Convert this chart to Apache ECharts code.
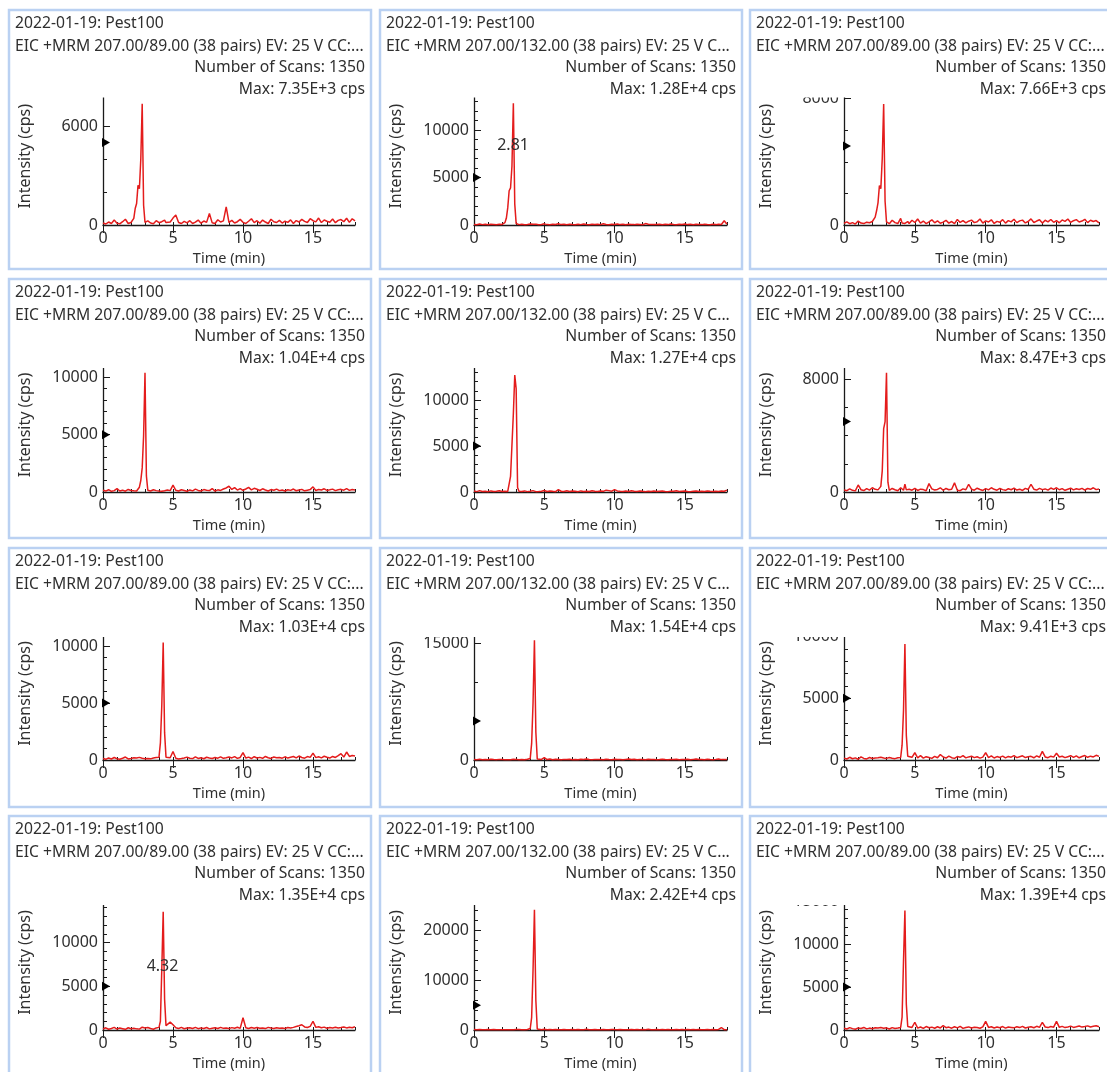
<!DOCTYPE html>
<html>
<head>
<meta charset="utf-8">
<script src="https://cdn.jsdelivr.net/npm/echarts@6/dist/echarts.min.js"></script>
<style>
  html, body { margin: 0; padding: 0; background: #fff; }
  #chart { width: 1107px; height: 1072px; }
</style>
</head>
<body>
<div id="chart"></div>
<script>
// retention time grid shared by every trace (min)
const timeMin = [
  0, 0.2, 0.4, 0.6, 0.8, 1.0, 1.2, 1.4, 1.6, 1.8, 2.0, 2.2,
  2.3, 2.4, 2.5, 2.6, 2.7, 2.8, 2.9, 3.0, 3.1, 3.2,
  3.4, 3.6, 3.8, 4.0,
  4.1, 4.2, 4.3, 4.4, 4.5, 4.6,
  4.8, 5.0, 5.2, 5.4, 5.6, 5.8, 6.0, 6.2, 6.4, 6.6, 6.8,
  7.0, 7.2, 7.4, 7.6, 7.8, 8.0, 8.2, 8.4, 8.6, 8.8,
  9.0, 9.2, 9.4, 9.6, 9.8, 10.0, 10.2, 10.4, 10.6, 10.8,
  11.0, 11.2, 11.4, 11.6, 11.8, 12.0, 12.2, 12.4, 12.6, 12.8,
  13.0, 13.2, 13.4, 13.6, 13.8, 14.0, 14.2, 14.4, 14.6, 14.8,
  15.0, 15.2, 15.4, 15.6, 15.8, 16.0, 16.2, 16.4, 16.6, 16.8,
  17.0, 17.2, 17.4, 17.6, 17.8, 18.0
]

// intensities (cps), one array per panel, read row by row
const eic01 = [
  120, 60, 180, 90, 300, 110, 70, 200, 350, 90, 150, 400,
  1000, 1300, 2400, 2200, 4000, 7350, 1200, 160, 90, 250,
  120, 80, 260, 140,
  90, 200, 110, 300, 150, 80,
  180, 420, 600, 150, 90, 220, 130, 260, 90, 170, 300,
  110, 240, 160, 700, 130, 90, 320, 180, 250, 1100,
  150, 280, 120, 200, 340, 160, 90, 230, 380, 140,
  260, 110, 300, 180, 90, 350, 200, 150, 280, 120,
  230, 160, 310, 90, 270, 180, 340, 220, 150, 380,
  260, 190, 420, 150, 300, 230, 170, 360, 140, 280,
  330, 200, 410, 160, 380, 250
]
const eic02 = [
  60, 30, 100, 40, 80, 20, 70, 50, 30, 90, 60, 250,
  700, 1800, 3600, 3900, 6200, 12800, 2200, 150, 60, 40,
  80, 30, 60, 100,
  40, 70, 30, 90, 50, 20,
  60, 120, 40, 30, 80, 50, 140, 40, 70, 30, 90,
  50, 30, 80, 40, 110, 60, 30, 70, 50, 90,
  40, 130, 60, 30, 80, 50, 100, 40, 70, 30,
  90, 50, 40, 80, 60, 30, 150, 70, 40, 60,
  50, 90, 30, 70, 40, 100, 60, 30, 80, 50,
  110, 40, 70, 30, 90, 60, 40, 80, 50, 30,
  70, 40, 90, 60, 450, 80
]
const eic03 = [
  100, 200, 80, 150, 60, 250, 120, 90, 180, 140, 220, 500,
  900, 1400, 2500, 2300, 4200, 7660, 1500, 200, 120, 80,
  300, 150, 90, 420,
  130, 250, 100, 180, 220, 90,
  300, 160, 380, 120, 250, 90, 200, 330, 140, 260, 110,
  180, 300, 120, 220, 90, 350, 160, 280, 130, 240,
  310, 150, 200, 380, 120, 260, 190, 330, 100, 230,
  170, 340, 120, 280, 200, 360, 150, 260, 310, 130,
  220, 390, 160, 250, 330, 120, 300, 200, 350, 170,
  280, 140, 320, 230, 380, 160, 270, 340, 190, 250,
  360, 150, 300, 220, 280, 130
]
const eic04 = [
  150, 80, 200, 60, 120, 300, 90, 160, 70, 220, 130, 100,
  180, 90, 200, 420, 1000, 2100, 4900, 10400, 1400, 160,
  90, 200, 120, 80,
  150, 60, 230, 110, 90, 170,
  120, 600, 150, 90, 200, 130, 60, 180, 100, 250, 140,
  90, 210, 160, 120, 300, 80, 190, 140, 260, 350,
  500, 220, 380, 170, 300, 150, 260, 400, 190, 320,
  240, 130, 280, 180, 90, 210, 150, 250, 120, 170,
  90, 200, 140, 260, 110, 180, 230, 100, 160, 210,
  450, 130, 220, 170, 280, 140, 190, 250, 120, 200,
  230, 160, 290, 140, 210, 180
]
const eic05 = [
  100, 40, 150, 60, 90, 30, 120, 50, 80, 140, 60, 90,
  70, 60, 200, 1700, 1900, 8500, 12700, 11200, 500, 80,
  60, 120, 40, 90,
  50, 150, 80, 40, 110, 60,
  90, 160, 50, 120, 70, 40, 250, 80, 60, 130, 50,
  100, 70, 40, 120, 60, 90, 50, 130, 80, 60,
  110, 70, 200, 150, 90, 260, 120, 70, 50, 100,
  60, 130, 80, 50, 110, 70, 40, 90, 60, 120,
  50, 80, 110, 60, 40, 90, 70, 130, 50, 80,
  100, 60, 40, 90, 120, 50, 80, 60, 110, 70,
  50, 90, 60, 120, 80, 200
]
const eic06 = [
  150, 90, 220, 120, 80, 500, 160, 100, 240, 130, 300, 190,
  110, 150, 200, 400, 1500, 4500, 5000, 8470, 700, 120,
  250, 160, 90, 300,
  180, 120, 550, 150, 90, 200,
  130, 260, 110, 200, 170, 90, 600, 220, 140, 180, 300,
  120, 250, 160, 200, 650, 130, 90, 220, 160, 550,
  200, 130, 270, 180, 110, 240, 150, 300, 190, 130,
  250, 170, 120, 230, 160, 280, 140, 200, 110, 260,
  180, 550, 200, 140, 260, 170, 220, 130, 280, 190,
  300, 160, 240, 120, 200, 270, 150, 230, 180, 260,
  140, 250, 190, 300, 170, 220
]
const eic07 = [
  130, 60, 180, 90, 220, 110, 70, 150, 260, 90, 130, 200,
  80, 170, 110, 230, 90, 150, 200, 120, 260, 140,
  100, 180, 220, 250,
  1500, 4800, 10300, 2400, 250, 120,
  200, 750, 150, 90, 130, 180, 250, 160, 120, 280, 140,
  190, 110, 240, 170, 130, 220, 160, 280, 150, 200,
  260, 180, 300, 140, 220, 650, 170, 250, 130, 290,
  180, 230, 150, 310, 200, 140, 260, 190, 220, 160,
  280, 170, 240, 310, 190, 350, 220, 160, 300, 230,
  600, 210, 280, 190, 330, 240, 170, 310, 220, 380,
  550, 260, 700, 310, 400, 350
]
const eic08 = [
  60, 30, 90, 40, 70, 30, 110, 50, 40, 80, 60, 30,
  90, 40, 70, 30, 60, 100, 40, 80, 50, 30,
  70, 40, 90, 200,
  2100, 7300, 15400, 3600, 120, 60,
  80, 300, 50, 120, 40, 90, 60, 30, 80, 50, 110,
  40, 70, 30, 90, 50, 120, 60, 40, 80, 50,
  70, 40, 100, 60, 30, 90, 50, 70, 40, 80,
  120, 50, 90, 30, 70, 60, 40, 100, 50, 80,
  40, 70, 110, 50, 30, 80, 60, 90, 40, 70,
  60, 90, 40, 80, 120, 50, 70, 30, 90, 60,
  40, 80, 130, 50, 70, 60
]
const eic09 = [
  150, 80, 220, 100, 170, 60, 250, 130, 90, 200, 120, 160,
  90, 180, 120, 230, 100, 160, 210, 130, 90, 200,
  140, 110, 180, 200,
  1200, 4000, 9410, 2000, 300, 150,
  220, 600, 180, 350, 150, 270, 200, 130, 300, 180, 450,
  240, 160, 320, 190, 130, 280, 220, 350, 170, 250,
  300, 190, 260, 150, 230, 600, 200, 340, 160, 280,
  210, 320, 170, 290, 230, 360, 190, 270, 340, 200,
  260, 300, 180, 330, 220, 700, 250, 190, 310, 230,
  550, 240, 300, 190, 270, 350, 210, 330, 180, 280,
  360, 220, 310, 250, 380, 290
]
const eic10 = [
  120, 250, 90, 180, 300, 110, 220, 150, 80, 260, 140, 190,
  250, 130, 200, 100, 180, 320, 150, 220, 110, 280,
  170, 90, 240, 300,
  1000, 7000, 13500, 3500, 500, 300,
  900, 600, 250, 180, 300, 140, 220, 260, 170, 300, 150,
  240, 180, 280, 130, 210, 260, 170, 300, 190, 230,
  160, 270, 200, 310, 180, 1400, 250, 170, 290, 210,
  280, 190, 240, 160, 300, 220, 170, 260, 200, 230,
  180, 280, 220, 300, 400, 480, 600, 350, 280, 420,
  1000, 300, 380, 260, 330, 200, 290, 240, 310, 220,
  280, 350, 240, 320, 260, 380
]
const eic11 = [
  80, 40, 120, 60, 30, 90, 50, 100, 40, 70, 60, 30,
  90, 50, 70, 40, 100, 60, 30, 80, 50, 90,
  40, 70, 100, 300,
  2500, 12000, 24200, 6000, 200, 80,
  60, 150, 40, 90, 50, 120, 70, 40, 100, 60, 30,
  80, 50, 110, 40, 70, 130, 60, 30, 90, 50,
  70, 100, 40, 60, 120, 80, 50, 90, 40, 70,
  60, 110, 50, 80, 40, 90, 70, 130, 50, 60,
  100, 40, 80, 60, 120, 50, 70, 90, 40, 80,
  60, 100, 50, 80, 40, 120, 70, 50, 90, 60,
  80, 50, 110, 500, 70, 60
]
const eic12 = [
  200, 120, 280, 160, 90, 240, 180, 300, 130, 220, 150, 260,
  170, 230, 120, 290, 160, 210, 140, 250, 190, 120,
  280, 170, 230, 300,
  1500, 8000, 13900, 3000, 400, 250,
  300, 900, 220, 350, 180, 400, 260, 330, 200, 380, 240,
  500, 270, 340, 210, 380, 250, 420, 190, 300, 360,
  240, 330, 280, 200, 360, 1000, 300, 380, 230, 340,
  270, 400, 220, 350, 300, 250, 380, 280, 420, 230,
  320, 380, 260, 430, 300, 900, 350, 280, 400, 330,
  1000, 310, 420, 280, 360, 450, 300, 380, 470, 340,
  400, 480, 350, 430, 500, 380
]
const traces = [eic01, eic02, eic03, eic04, eic05, eic06, eic07, eic08, eic09, eic10, eic11, eic12]

const sampleName = '2022-01-19: Pest100'
const eicTitles = [
  'EIC +MRM 207.00/89.00 (38 pairs) EV: 25 V CC:...',
  'EIC +MRM 207.00/132.00 (38 pairs) EV: 25 V C...',
  'EIC +MRM 207.00/89.00 (38 pairs) EV: 25 V CC:...'
]
const scanCount = 1350
const maxCps = ['7.35E+3', '1.28E+4', '7.66E+3', '1.04E+4', '1.27E+4', '8.47E+3',
  '1.03E+4', '1.54E+4', '9.41E+3', '1.35E+4', '2.42E+4', '1.39E+4']

// y axis range / label step / minor split per panel
const yTop = [8330, 14470, 8700, 11680, 14560, 9510, 11670, 17100, 10780, 15430, 27160, 15700]
const yStep = [6000, 5000, 8000, 5000, 5000, 8000, 5000, 15000, 5000, 5000, 10000, 5000]
const yMinor = [3, 5, 4, 5, 5, 4, 5, 3, 5, 5, 5, 5]
const xTicks = [0, 5, 10, 15]
const markerLevel = 5000
// peak retention-time annotations that are visible
const peakNotes = [
  { panel: 1, text: '2.81', at: [2.78, 8400] },
  { panel: 9, text: '4.32', at: [4.25, 7300] }
]

// layout (pixels)
const colLeft = [9, 380, 750]
const rowTop = [10, 279, 548, 816]
const axisBase = [225, 492, 760, 1030]
const plotClip = [97.5, 368, 637, 905]
const plotWidth = [252, 253, 255]
const panelW = 362
const panelH = 259

const FONT = '"Noto Sans", "Open Sans", sans-serif'
const INK = '#2f2f2f'
const RED = '#e41c1c'

const chart = echarts.init(document.getElementById('chart'))

const grid = []
const xAxis = []
const yAxis = []
const series = []
const graphic = []

traces.forEach((vals, i) => {
  const r = Math.floor(i / 3)
  const c = i % 3
  const L = colLeft[c]
  const T = rowTop[r]
  const gTop = plotClip[r] - 10

  grid.push({
    left: L + 94,
    top: gTop,
    width: plotWidth[c],
    height: axisBase[r] - gTop,
    containLabel: false
  })

  // minor ticks every minute + labels at 0/5/10/15
  xAxis.push({
    type: 'value',
    gridIndex: i,
    min: 0,
    max: 18,
    interval: 1,
    axisLine: { show: true, onZero: false, lineStyle: { color: '#1a1a1a', width: 1.3 } },
    axisTick: { show: true, inside: true, length: 3, lineStyle: { color: '#1a1a1a' } },
    axisLabel: {
      color: INK,
      fontFamily: FONT,
      fontSize: 16,
      margin: 5,
      formatter: v => (v % 5 === 0 ? String(v) : '')
    },
    splitLine: { show: false },
    name: 'Time (min)',
    nameLocation: 'middle',
    nameGap: 26,
    nameTextStyle: { color: INK, fontFamily: FONT, fontSize: 14.5 }
  })
  // long ticks at the labelled minutes
  xAxis.push({
    type: 'value',
    gridIndex: i,
    min: 0,
    max: 18,
    interval: 5,
    axisLine: { show: false },
    axisTick: { show: true, inside: true, length: 8, customValues: xTicks, lineStyle: { color: '#1a1a1a' } },
    axisLabel: { show: false },
    splitLine: { show: false }
  })

  yAxis.push({
    type: 'value',
    gridIndex: i,
    min: 0,
    max: yTop[i],
    interval: yStep[i],
    axisLine: { show: true, onZero: false, lineStyle: { color: '#1a1a1a', width: 1.3 } },
    axisTick: { show: true, inside: true, length: 7, lineStyle: { color: '#1a1a1a' } },
    minorTick: { show: true, splitNumber: yMinor[i], length: 4, lineStyle: { color: '#1a1a1a' } },
    axisLabel: {
      color: INK,
      fontFamily: FONT,
      fontSize: 16,
      margin: 5,
      showMaxLabel: false,
      formatter: v => String(v)
    },
    splitLine: { show: false },
    name: 'Intensity (cps)',
    nameLocation: 'middle',
    nameGap: 70,
    nameTextStyle: { color: INK, fontFamily: FONT, fontSize: 16 }
  })

  series.push({
    type: 'line',
    xAxisIndex: 2 * i,
    yAxisIndex: i,
    data: timeMin.map((t, k) => [t, vals[k]]),
    showSymbol: false,
    symbol: 'none',
    lineStyle: { color: RED, width: 1.5 },
    clip: true,
    z: 3
  })
  series.push({
    type: 'scatter',
    xAxisIndex: 2 * i,
    yAxisIndex: i,
    data: [[0, markerLevel]],
    symbol: 'triangle',
    symbolRotate: -90,
    symbolSize: [9, 8],
    symbolOffset: [3, 0],
    itemStyle: { color: '#000', opacity: 1 },
    clip: false,
    silent: true,
    z: 4
  })

  // panel frame, header mask and header text
  graphic.push({
    type: 'rect',
    shape: { x: L + 2, y: T + 2, width: panelW - 4, height: plotClip[r] - T - 2 },
    style: { fill: '#fff' },
    z: 100
  })
  graphic.push({
    type: 'rect',
    shape: { x: L, y: T, width: panelW, height: panelH },
    style: { fill: 'none', stroke: '#bad1f2', lineWidth: 2.5 },
    z: 110
  })
  const line = (txt, x, y, align) => ({
    type: 'text',
    x: x,
    y: y,
    style: {
      text: txt,
      fill: INK,
      fontFamily: FONT,
      fontSize: 15.7,
      align: align,
      verticalAlign: 'middle'
    },
    z: 105
  })
  graphic.push(line(sampleName, L + 6, T + 14, 'left'))
  graphic.push(line(eicTitles[c], L + 6, T + 36.5, 'left'))
  graphic.push(line('Number of Scans: ' + scanCount, L + panelW - 6, T + 58, 'right'))
  graphic.push(line('Max: ' + maxCps[i] + ' cps', L + panelW - 6, T + 80, 'right'))
})

peakNotes.forEach(p => {
  series.push({
    type: 'scatter',
    xAxisIndex: 2 * p.panel,
    yAxisIndex: p.panel,
    data: [p.at],
    symbolSize: 0,
    silent: true,
    itemStyle: { opacity: 1 },
    label: {
      show: true,
      position: 'inside',
      formatter: p.text,
      color: INK,
      textBorderWidth: 0,
      fontFamily: FONT,
      fontSize: 16
    },
    z: 5
  })
})

chart.setOption({
  animation: false,
  backgroundColor: '#fff',
  grid: grid,
  xAxis: xAxis,
  yAxis: yAxis,
  series: series,
  graphic: { elements: graphic }
})
</script>
</body>
</html>
